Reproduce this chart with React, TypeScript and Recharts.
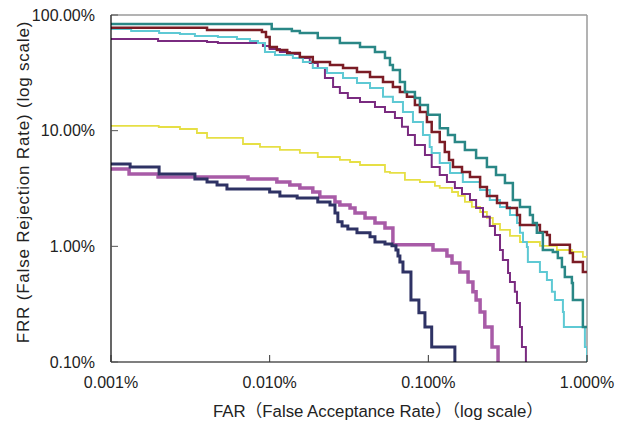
import React from "react";
import { LineChart, Line, XAxis, YAxis, ReferenceLine, Label } from "recharts";

// [FAR %, FRR %] pairs, each one the start of a step level
const navyCurve = [
  [0.001, 5.16], [0.00132, 4.86], [0.00201, 4.22], [0.00338, 3.83], [0.00403, 3.6],
  [0.00466, 3.39], [0.00538, 3.13], [0.01, 2.95], [0.0116, 2.73], [0.0149, 2.62],
  [0.0201, 2.42], [0.024, 2.28], [0.0258, 1.94], [0.0269, 1.63], [0.0286, 1.5],
  [0.0311, 1.41], [0.0355, 1.31], [0.0429, 1.21], [0.0461, 1.09], [0.0533, 1.05],
  [0.059, 1.01], [0.0625, 0.93], [0.0644, 0.826], [0.0662, 0.733], [0.0692, 0.601],
  [0.0777, 0.344], [0.0872, 0.266], [0.0952, 0.201], [0.105, 0.135], [0.147, 0.1],
];

const pinkCurve = [
  [0.001, 4.67], [0.0013, 4.22], [0.00198, 3.98], [0.0073, 3.83], [0.0111, 3.6],
  [0.0134, 3.39], [0.0155, 3.2], [0.0187, 2.95], [0.0207, 2.67], [0.0258, 2.42],
  [0.0277, 2.28], [0.0321, 2.15], [0.0345, 1.94], [0.0399, 1.76], [0.0461, 1.59],
  [0.0533, 1.44], [0.0598, 1.03], [0.107, 0.93], [0.131, 0.826], [0.141, 0.719],
  [0.158, 0.601], [0.178, 0.492], [0.191, 0.404], [0.2, 0.344], [0.212, 0.271],
  [0.227, 0.201], [0.252, 0.135], [0.275, 0.1],
];

const yellowCurve = [
  [0.001, 10.98], [0.002, 10.76], [0.00272, 10.34], [0.00348, 9.55], [0.00403, 8.65],
  [0.00679, 7.67], [0.00869, 7.23], [0.0116, 6.81], [0.0155, 6.42], [0.0201, 5.92],
  [0.0277, 5.58], [0.0321, 5.36], [0.0371, 5.05], [0.0533, 4.4], [0.0573, 4.31],
  [0.0712, 3.75], [0.0885, 3.6], [0.11, 3.33], [0.118, 3.2], [0.141, 2.95],
  [0.154, 2.73], [0.17, 2.42], [0.188, 2.19], [0.212, 1.98], [0.234, 1.76],
  [0.255, 1.56], [0.283, 1.39], [0.327, 1.23], [0.378, 1.09], [0.505, 1.01],
  [0.646, 0.93], [0.803, 0.895], [0.942, 0.81], [1, 0.81],
];

const purpleCurve = [
  [0.001, 62.0], [0.00198, 59.6], [0.00403, 58.4], [0.00472, 57.3], [0.00907, 54.0],
  [0.01, 50.8], [0.0116, 47.9], [0.0134, 46.0], [0.0155, 42.5], [0.0179, 38.5],
  [0.0201, 34.8], [0.0223, 28.5], [0.0251, 23.8], [0.0277, 21.2], [0.0311, 19.2],
  [0.0371, 17.7], [0.0461, 16.0], [0.0533, 14.5], [0.0616, 12.9], [0.0682, 10.8],
  [0.0744, 9.18], [0.0823, 7.52], [0.0952, 6.17], [0.105, 4.86], [0.118, 4.14],
  [0.131, 3.6], [0.147, 3.2], [0.163, 2.84], [0.183, 2.52], [0.2, 2.15],
  [0.221, 1.8], [0.244, 1.5], [0.263, 1.25], [0.283, 0.93], [0.295, 0.762],
  [0.318, 0.589], [0.327, 0.492], [0.351, 0.404], [0.362, 0.324], [0.378, 0.201],
  [0.389, 0.135], [0.412, 0.1],
];

const cyanCurve = [
  [0.001, 75.7], [0.00134, 72.7], [0.00201, 69.9], [0.00272, 68.5], [0.00338, 65.9],
  [0.00472, 64.5], [0.00622, 62.0], [0.00751, 59.6], [0.00844, 57.3], [0.00934, 47.9],
  [0.0108, 45.1], [0.014, 42.5], [0.0162, 39.3], [0.0187, 34.8], [0.023, 31.5],
  [0.029, 28.5], [0.0355, 25.8], [0.0429, 23.4], [0.0518, 19.6], [0.0598, 17.7],
  [0.0692, 14.5], [0.08, 11.9], [0.0925, 9.18], [0.102, 7.23], [0.105, 6.42],
  [0.118, 5.26], [0.137, 4.31], [0.165, 3.6], [0.212, 3.07], [0.244, 2.52],
  [0.283, 2.19], [0.327, 1.87], [0.362, 1.59], [0.378, 1.31], [0.395, 1.09],
  [0.418, 0.988], [0.424, 0.733], [0.505, 0.601], [0.559, 0.512], [0.601, 0.404],
  [0.628, 0.344], [0.705, 0.271], [0.715, 0.201], [0.97, 0.135], [1, 0.1],
];

const maroonCurve = [
  [0.001, 77.7], [0.00403, 74.2], [0.00894, 71.3], [0.00948, 64.5], [0.01, 52.9],
  [0.0111, 49.8], [0.0129, 46.9], [0.0155, 43.4], [0.0187, 39.3], [0.024, 37.0],
  [0.029, 34.8], [0.0355, 32.2], [0.0429, 29.1], [0.0518, 26.4], [0.0598, 23.8],
  [0.0662, 21.6], [0.0733, 19.6], [0.0823, 16.7], [0.0885, 14.5], [0.098, 11.9],
  [0.105, 9.74], [0.118, 7.98], [0.127, 6.55], [0.135, 5.58], [0.143, 4.86],
  [0.163, 4.4], [0.183, 3.98], [0.212, 3.26], [0.234, 2.73], [0.271, 2.37],
  [0.313, 2.15], [0.362, 1.87], [0.378, 1.53], [0.505, 1.33], [0.559, 1.25],
  [0.583, 1.03], [0.78, 0.877], [0.815, 0.733], [0.942, 0.601], [1, 0.601],
];

const tealCurve = [
  [0.001, 83.6], [0.0103, 75.7], [0.0138, 72.7], [0.0155, 69.9], [0.0201, 63.3],
  [0.0277, 57.3], [0.0371, 52.9], [0.0461, 47.9], [0.0533, 42.5], [0.0573, 37.0],
  [0.0598, 33.5], [0.0662, 26.4], [0.0712, 21.6], [0.0823, 19.2], [0.0885, 16.7],
  [0.0994, 13.7], [0.118, 10.5], [0.133, 9.18], [0.147, 7.98], [0.17, 6.81],
  [0.2, 5.81], [0.234, 4.86], [0.267, 4.14], [0.304, 3.53], [0.341, 2.52],
  [0.378, 2.19], [0.437, 1.87], [0.456, 1.59], [0.483, 1.31], [0.527, 0.93],
  [0.609, 0.895], [0.655, 0.794], [0.695, 0.664], [0.725, 0.544], [0.803, 0.483],
  [0.815, 0.344], [0.942, 0.201], [1, 0.201],
];

const xTicks = [0.001, 0.01, 0.1, 1];
const xTickLabels = ["0.001%", "0.010%", "0.100%", "1.000%"];
const yTicks = [0.1, 1, 10, 100];
const yTickLabels = ["0.10%", "1.00%", "10.00%", "100.00%"];

const xTitle = "FAR（False Acceptance Rate）（log scale）";
const yTitle = "FRR (False Rejection Rate) (log scale)";

const toPoints = (rows: number[][]) => rows.map(([far, frr]) => ({ far, frr }));

const series = [
  { name: "pink", rows: pinkCurve, color: "#a85ba7", width: 3.5 },
  { name: "navy", rows: navyCurve, color: "#2e3264", width: 3 },
  { name: "yellow", rows: yellowCurve, color: "#e6df45", width: 1.8 },
  { name: "purple", rows: purpleCurve, color: "#7a2b80", width: 2 },
  { name: "cyan", rows: cyanCurve, color: "#5ec9d4", width: 2 },
  { name: "maroon", rows: maroonCurve, color: "#7b1c25", width: 2.5 },
  { name: "teal", rows: tealCurve, color: "#2a8786", width: 2.5 },
];

const FONT = "'Liberation Sans', Arial, 'Noto Sans CJK JP', sans-serif";
const TICK_MARGIN_X = 15;
const TICK_MARGIN_Y = 16;

const labelFor = (ticks: number[], labels: string[], v: number) => {
  const i = ticks.findIndex((t) => Math.abs(t - v) / t < 1e-6);
  return i >= 0 ? labels[i] : String(v);
};

const XTick = (props: any) => {
  const { x, y, payload } = props;
  const axisY = y - TICK_MARGIN_X;
  return (
    <g>
      <line x1={x} x2={x} y1={axisY} y2={axisY - 7} stroke="#333" />
      <text x={x} y={y} dy="0.71em" textAnchor="middle" fontSize={16} fontFamily={FONT} fill="#222">
        {labelFor(xTicks, xTickLabels, payload.value)}
      </text>
    </g>
  );
};

const YTick = (props: any) => {
  const { x, y, payload } = props;
  const axisX = x + TICK_MARGIN_Y;
  return (
    <g>
      <line x1={axisX} x2={axisX + 7} y1={y} y2={y} stroke="#555" />
      <text x={x} y={y} dy="0.355em" textAnchor="end" fontSize={16} fontFamily={FONT} fill="#222">
        {labelFor(yTicks, yTickLabels, payload.value)}
      </text>
    </g>
  );
};

const XTitle = () => (
  <text x={378} y={417} textAnchor="middle" fontSize={16.8} fontFamily={FONT} fill="#222">
    {xTitle}
  </text>
);

const YTitle = () => (
  <g transform="translate(29 182) rotate(-90)">
    <text x={0} y={0} textAnchor="middle" fontSize={17} letterSpacing={0.8} fontFamily={FONT} fill="#222">
      {yTitle}
    </text>
  </g>
);

export default function App() {
  return (
    <div style={{ position: "absolute", left: 0, top: 0, width: 629, height: 435, background: "#fff" }}>
      <LineChart width={629} height={435} margin={{ top: 15, right: 42, left: 11, bottom: 13 }}>
        <XAxis
          type="number"
          dataKey="far"
          scale="log"
          domain={[0.001, 1]}
          allowDataOverflow
          ticks={xTicks}
          interval={0}
          height={60}
          tickSize={0}
          tickMargin={TICK_MARGIN_X}
          tickLine={false}
          axisLine={{ stroke: "#000", strokeWidth: 1.2 }}
          tick={<XTick />}
        >
          <Label content={<XTitle />} />
        </XAxis>
        <YAxis
          type="number"
          dataKey="frr"
          scale="log"
          domain={[0.1, 100]}
          allowDataOverflow
          ticks={yTicks}
          interval={0}
          width={100}
          tickSize={0}
          tickMargin={TICK_MARGIN_Y}
          tickLine={false}
          axisLine={{ stroke: "#000", strokeWidth: 1.2 }}
          tick={<YTick />}
        >
          <Label content={<YTitle />} />
        </YAxis>
        <ReferenceLine y={100} stroke="#9a9a9a" strokeWidth={1.5} />
        <ReferenceLine x={1} stroke="#9a9a9a" strokeWidth={1.5} />
        {series.map((s) => (
          <Line
            key={s.name}
            name={s.name}
            data={toPoints(s.rows)}
            dataKey="frr"
            type="stepAfter"
            stroke={s.color}
            strokeWidth={s.width}
            dot={false}
            activeDot={false}
            isAnimationActive={false}
          />
        ))}
      </LineChart>
    </div>
  );
}
